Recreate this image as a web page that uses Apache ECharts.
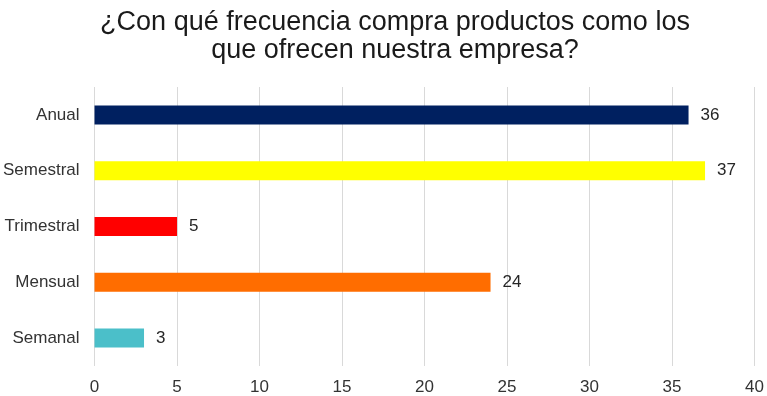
<!DOCTYPE html>
<html>
<head>
<meta charset="utf-8">
<script src="https://cdn.jsdelivr.net/npm/echarts@6/dist/echarts.min.js"></script>
<style>
  html, body { margin: 0; padding: 0; background: #fff; }
  #chart { width: 767px; height: 396px; }
</style>
</head>
<body>
<div id="chart"></div>
<script>
// Survey answers: purchase frequency
const categories = ['Anual', 'Semestral', 'Trimestral', 'Mensual', 'Semanal'];
const counts = [36, 37, 5, 24, 3];
const barColors = ['#002060', '#FFFF00', '#FF0000', '#FF6D00', '#4BBFC9'];
const xTicks = { min: 0, max: 40, interval: 5 };

const chart = echarts.init(document.getElementById('chart'));
const font = '"Liberation Sans", Arial, sans-serif';

chart.setOption({
  animation: false,
  title: {
    text: '¿Con qué frecuencia compra productos como los\nque ofrecen nuestra empresa?',
    left: 390,
    textAlign: 'center',
    top: 4,
    textStyle: { fontFamily: font, fontSize: 27, fontWeight: 'normal', color: '#1a1a1a', lineHeight: 28, align: 'center' }
  },
  grid: { left: 94, right: 11, top: 87, bottom: 30, containLabel: false },
  xAxis: {
    type: 'value',
    min: xTicks.min, max: xTicks.max, interval: xTicks.interval,
    axisLine: { show: false },
    axisTick: { show: false },
    axisLabel: { fontFamily: font, fontSize: 17, color: '#333333', margin: 13 },
    splitLine: { lineStyle: { color: '#d9d9d9', width: 1 } }
  },
  yAxis: {
    type: 'category',
    inverse: true,
    data: categories,
    axisLine: { show: false },
    axisTick: { show: false },
    axisLabel: { fontFamily: font, fontSize: 17, color: '#333333', margin: 15 }
  },
  series: [{
    type: 'bar',
    data: counts.map((v, i) => ({ value: v, itemStyle: { color: barColors[i] } })),
    barWidth: '34%',
    label: {
      show: true,
      position: 'right',
      distance: 12,
      fontFamily: font,
      fontSize: 17,
      color: '#262626'
    }
  }]
});
</script>
</body>
</html>
